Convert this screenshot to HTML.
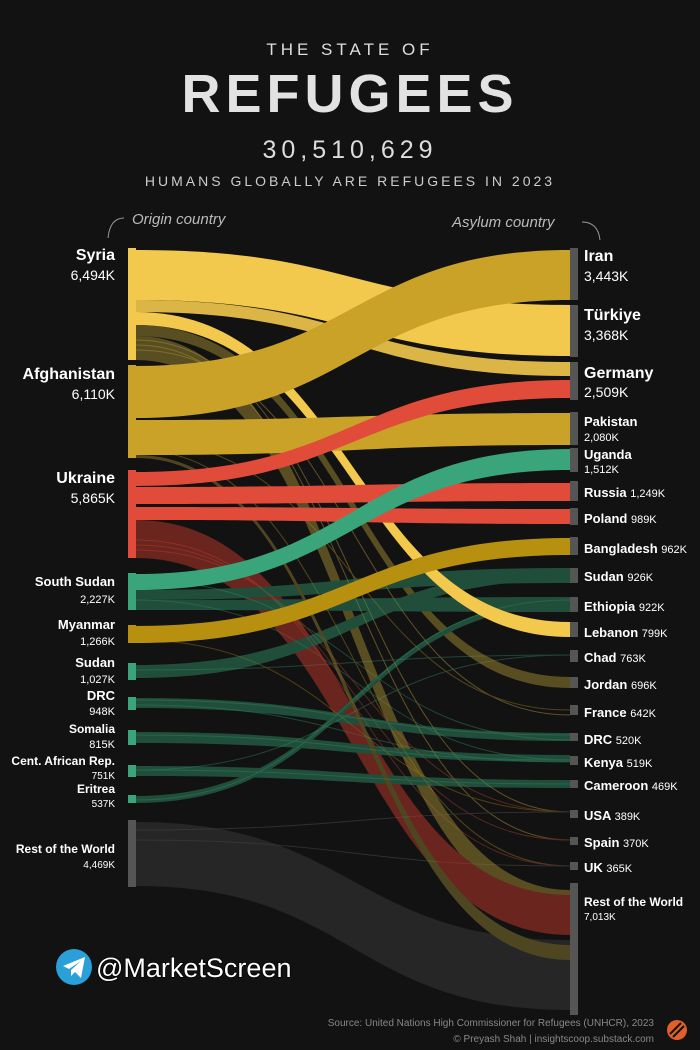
<!DOCTYPE html>
<html><head><meta charset="utf-8"><style>
body{margin:0;background:#121212;}
svg{display:block}
text{font-family:"Liberation Sans",sans-serif;}
</style></head><body>
<svg width="700" height="1050" viewBox="0 0 700 1050" xmlns="http://www.w3.org/2000/svg">
<rect width="700" height="1050" fill="#121212"/>
<text x="350" y="55" text-anchor="middle" fill="#ddd" font-size="17" letter-spacing="4">THE STATE OF</text>
<text x="350" y="112" text-anchor="middle" fill="#e2e2e2" font-size="54" font-weight="bold" letter-spacing="5">REFUGEES</text>
<text x="350" y="158" text-anchor="middle" fill="#ddd" font-size="25" letter-spacing="5">30,510,629</text>
<text x="350" y="186" text-anchor="middle" fill="#ccc" font-size="14" letter-spacing="3">HUMANS GLOBALLY ARE REFUGEES IN 2023</text>
<text x="132" y="224" fill="#bbb" font-size="15" font-style="italic" font-family="Liberation Serif,serif">Origin country</text>
<path d="M124 218 Q110 218 108 238" stroke="#999" fill="none"/>
<text x="452" y="227" fill="#bbb" font-size="15" font-style="italic" font-family="Liberation Serif,serif">Asylum country</text>
<path d="M582 222 Q598 222 600 240" stroke="#999" fill="none"/>
<g id="flows">
<g stroke-width="1" fill="none" opacity="0.35">
<path d="M136 580 C353 580 353 740 570 740" stroke="#3aa57a"/>
<path d="M136 600 C353 600 353 760 570 760" stroke="#3aa57a"/>
<path d="M136 670 C353 670 353 655 570 655" stroke="#3aa57a"/>
<path d="M136 700 C353 700 353 735 570 735" stroke="#3aa57a"/>
<path d="M136 705 C353 705 353 762 570 762" stroke="#3aa57a"/>
<path d="M136 735 C353 735 353 760 570 760" stroke="#3aa57a"/>
<path d="M136 770 C353 770 353 655 570 655" stroke="#3aa57a"/>
<path d="M136 770 C353 770 353 784 570 784" stroke="#3aa57a"/>
<path d="M136 800 C353 800 353 600 570 600" stroke="#3aa57a"/>
<path d="M136 340 C353 340 353 812 570 812" stroke="#f2c94c"/>
<path d="M136 345 C353 345 353 840 570 840" stroke="#f2c94c"/>
<path d="M136 350 C353 350 353 715 570 715" stroke="#f2c94c"/>
<path d="M136 440 C353 440 353 710 570 710" stroke="#c9a227"/>
<path d="M136 450 C353 450 353 866 570 866" stroke="#c9a227"/>
<path d="M136 540 C353 540 353 866 570 866" stroke="#e04b3a"/>
<path d="M136 545 C353 545 353 840 570 840" stroke="#e04b3a"/>
<path d="M136 550 C353 550 353 812 570 812" stroke="#e04b3a"/>
<path d="M136 640 C353 640 353 812 570 812" stroke="#b8900f"/>
<path d="M136 830 C353 830 353 812 570 812" stroke="#666"/>
<path d="M136 840 C353 840 353 866 570 866" stroke="#666"/>
</g>
<g opacity="0.5">
<path d="M136 336 C353 336 353 890 570 890 L570 915 C353 915 353 360 136 360Z" fill="#a08a30"/>
<path d="M136 325 C353 325 353 677 570 677 L570 688 C353 688 353 336 136 336Z" fill="#a08a30"/>
<path d="M136 520 C353 520 353 895 570 895 L570 935 C353 935 353 558 136 558Z" fill="#c0392b"/>
<path d="M136 590 C353 590 353 568 570 568 L570 583 C353 583 353 600 136 600Z" fill="#2e8a63"/>
<path d="M136 600 C353 600 353 597 570 597 L570 612 C353 612 353 610 136 610Z" fill="#2e8a63"/>
<path d="M136 665 C353 665 353 570 570 570 L570 580 C353 580 353 678 136 678Z" fill="#2e8a63"/>
<path d="M136 698 C353 698 353 733 570 733 L570 741 C353 741 353 708 136 708Z" fill="#2e8a63"/>
<path d="M136 732 C353 732 353 755 570 755 L570 762 C353 762 353 743 136 743Z" fill="#2e8a63"/>
<path d="M136 766 C353 766 353 780 570 780 L570 788 C353 788 353 776 136 776Z" fill="#2e8a63"/>
<path d="M136 796 C353 796 353 600 570 600 L570 606 C353 606 353 803 136 803Z" fill="#2e8a63"/>
<path d="M136 822 C353 822 353 940 570 940 L570 1010 C353 1010 353 886 136 886Z" fill="#3a3a3a"/>
<path d="M136 455 C353 455 353 945 570 945 L570 960 C353 960 353 458 136 458Z" fill="#8a7a30"/>
</g>
<path d="M136 250 C353 250 353 305 570 305 L570 356 C353 356 353 300 136 300Z" fill="#f2c94c"/>
<path d="M136 300 C353 300 353 362 570 362 L570 376 C353 376 353 312 136 312Z" fill="#f2c94c" opacity="0.9"/>
<path d="M136 312 C353 312 353 622 570 622 L570 637 C353 637 353 325 136 325Z" fill="#f2c94c"/>
<path d="M136 366 C353 366 353 250 570 250 L570 300 C353 300 353 418 136 418Z" fill="#c9a227"/>
<path d="M136 420 C353 420 353 413 570 413 L570 445 C353 445 353 455 136 455Z" fill="#c9a227"/>
<path d="M136 472 C353 472 353 380 570 380 L570 398 C353 398 353 486 136 486Z" fill="#e04b3a"/>
<path d="M136 487 C353 487 353 483 570 483 L570 501 C353 501 353 504 136 504Z" fill="#e04b3a"/>
<path d="M136 507 C353 507 353 509 570 509 L570 524 C353 524 353 520 136 520Z" fill="#e04b3a"/>
<path d="M136 574 C353 574 353 449 570 449 L570 470 C353 470 353 590 136 590Z" fill="#3aa57a"/>
<path d="M136 626 C353 626 353 538 570 538 L570 555 C353 555 353 643 136 643Z" fill="#b8900f"/>
</g>
<g>
<rect x="128" y="248" width="8" height="112" fill="#f2c94c"/>
<rect x="128" y="365" width="8" height="93" fill="#c9a227"/>
<rect x="128" y="470" width="8" height="88" fill="#e04b3a"/>
<rect x="128" y="573" width="8" height="37" fill="#3aa57a"/>
<rect x="128" y="625" width="8" height="18" fill="#b8900f"/>
<rect x="128" y="663" width="8" height="17" fill="#3aa57a"/>
<rect x="128" y="697" width="8" height="13" fill="#3aa57a"/>
<rect x="128" y="730" width="8" height="15" fill="#3aa57a"/>
<rect x="128" y="765" width="8" height="12" fill="#3aa57a"/>
<rect x="128" y="795" width="8" height="8" fill="#3aa57a"/>
<rect x="128" y="820" width="8" height="67" fill="#555"/>
</g>
<g fill="#555">
<rect x="570" y="248" width="8" height="52"/><rect x="570" y="305" width="8" height="52"/>
<rect x="570" y="362" width="8" height="38"/><rect x="570" y="412" width="8" height="33"/>
<rect x="570" y="448" width="8" height="24"/><rect x="570" y="481" width="8" height="20"/>
<rect x="570" y="508" width="8" height="17"/><rect x="570" y="537" width="8" height="18"/>
<rect x="570" y="568" width="8" height="15"/><rect x="570" y="597" width="8" height="15"/>
<rect x="570" y="622" width="8" height="15"/><rect x="570" y="650" width="8" height="12"/>
<rect x="570" y="677" width="8" height="11"/><rect x="570" y="705" width="8" height="10"/>
<rect x="570" y="733" width="8" height="8"/><rect x="570" y="756" width="8" height="9"/>
<rect x="570" y="780" width="8" height="8"/><rect x="570" y="810" width="8" height="8"/>
<rect x="570" y="837" width="8" height="8"/><rect x="570" y="862" width="8" height="8"/>
<rect x="570" y="883" width="8" height="132"/>
</g>
<g fill="#fff" text-anchor="end" font-weight="bold">
<text x="115" y="260" font-size="16">Syria</text><text x="115" y="280" font-size="14" font-weight="normal">6,494K</text>
<text x="115" y="379" font-size="16">Afghanistan</text><text x="115" y="399" font-size="14" font-weight="normal">6,110K</text>
<text x="115" y="483" font-size="16">Ukraine</text><text x="115" y="503" font-size="14" font-weight="normal">5,865K</text>
<text x="115" y="586" font-size="13">South Sudan</text><text x="115" y="603" font-size="11" font-weight="normal">2,227K</text>
<text x="115" y="629" font-size="13">Myanmar</text><text x="115" y="645" font-size="11" font-weight="normal">1,266K</text>
<text x="115" y="667" font-size="13">Sudan</text><text x="115" y="683" font-size="11" font-weight="normal">1,027K</text>
<text x="115" y="700" font-size="13">DRC</text><text x="115" y="715" font-size="11" font-weight="normal">948K</text>
<text x="115" y="733" font-size="12">Somalia</text><text x="115" y="748" font-size="11" font-weight="normal">815K</text>
<text x="115" y="765" font-size="12">Cent. African Rep.</text><text x="115" y="779" font-size="10" font-weight="normal">751K</text>
<text x="115" y="793" font-size="12">Eritrea</text><text x="115" y="807" font-size="10" font-weight="normal">537K</text>
<text x="115" y="853" font-size="12">Rest of the World</text><text x="115" y="868" font-size="10" font-weight="normal">4,469K</text>
</g>
<g fill="#fff" font-weight="bold">
<text x="584" y="261" font-size="16">Iran</text><text x="584" y="281" font-size="14" font-weight="normal">3,443K</text>
<text x="584" y="320" font-size="16">Türkiye</text><text x="584" y="340" font-size="14" font-weight="normal">3,368K</text>
<text x="584" y="378" font-size="16">Germany</text><text x="584" y="397" font-size="14" font-weight="normal">2,509K</text>
<text x="584" y="426" font-size="13">Pakistan</text><text x="584" y="441" font-size="11" font-weight="normal">2,080K</text>
<text x="584" y="459" font-size="13">Uganda</text><text x="584" y="473" font-size="11" font-weight="normal">1,512K</text>
<text x="584" y="497" font-size="13">Russia <tspan font-size="11" font-weight="normal">1,249K</tspan></text>
<text x="584" y="523" font-size="13">Poland <tspan font-size="11" font-weight="normal">989K</tspan></text>
<text x="584" y="553" font-size="13">Bangladesh <tspan font-size="11" font-weight="normal">962K</tspan></text>
<text x="584" y="581" font-size="13">Sudan <tspan font-size="11" font-weight="normal">926K</tspan></text>
<text x="584" y="611" font-size="13">Ethiopia <tspan font-size="11" font-weight="normal">922K</tspan></text>
<text x="584" y="637" font-size="13">Lebanon <tspan font-size="11" font-weight="normal">799K</tspan></text>
<text x="584" y="662" font-size="13">Chad <tspan font-size="11" font-weight="normal">763K</tspan></text>
<text x="584" y="689" font-size="13">Jordan <tspan font-size="11" font-weight="normal">696K</tspan></text>
<text x="584" y="717" font-size="13">France <tspan font-size="11" font-weight="normal">642K</tspan></text>
<text x="584" y="744" font-size="13">DRC <tspan font-size="11" font-weight="normal">520K</tspan></text>
<text x="584" y="767" font-size="13">Kenya <tspan font-size="11" font-weight="normal">519K</tspan></text>
<text x="584" y="790" font-size="13">Cameroon <tspan font-size="11" font-weight="normal">469K</tspan></text>
<text x="584" y="820" font-size="13">USA <tspan font-size="11" font-weight="normal">389K</tspan></text>
<text x="584" y="847" font-size="13">Spain <tspan font-size="11" font-weight="normal">370K</tspan></text>
<text x="584" y="872" font-size="13">UK <tspan font-size="11" font-weight="normal">365K</tspan></text>
<text x="584" y="906" font-size="12">Rest of the World</text><text x="584" y="920" font-size="10" font-weight="normal">7,013K</text>
</g>
<circle cx="74" cy="967" r="18" fill="#2a9fd8"/>
<path d="M63 966 L85 957 L81 978 L75 972 L71 976 L71 970 L81 961 L69 969Z" fill="#fff"/>
<text x="96" y="977" font-size="27" fill="#fff" stroke="#000" stroke-width="1.5" paint-order="stroke">@MarketScreen</text>
<text x="654" y="1026" text-anchor="end" font-size="10" fill="#888">Source: United Nations High Commissioner for Refugees (UNHCR), 2023</text>
<text x="654" y="1042" text-anchor="end" font-size="10" fill="#888">© Preyash Shah | insightscoop.substack.com</text>
<circle cx="677" cy="1030" r="10" fill="#e0602a"/>
<path d="M670 1034 L681 1023 M673 1037 L684 1026" stroke="#121212" stroke-width="2"/>
</svg>
</body></html>
